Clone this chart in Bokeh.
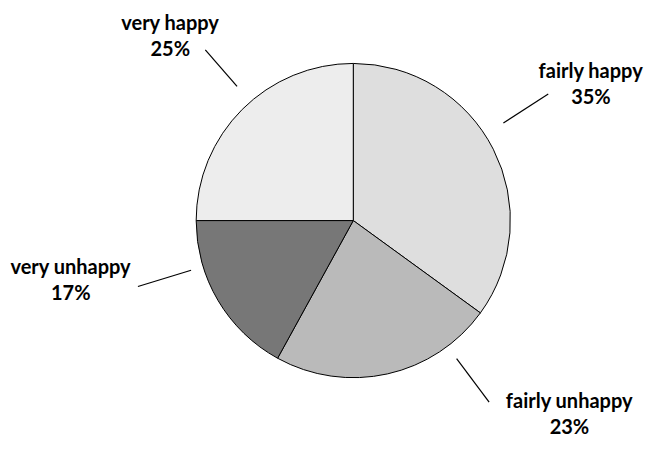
import numpy as np
from bokeh.plotting import figure
from bokeh.models import Range1d
from bokeh.core.properties import value
from bokeh.embed import file_html
from bokeh.resources import INLINE

# data (clockwise from 12 o'clock)
categories = ["fairly happy", "fairly unhappy", "very unhappy", "very happy"]
percents = [35, 23, 17, 25]
colors = ["#dedede", "#bababa", "#777777", "#ededed"]

# label layout (reference-pixel coordinates, y downward)
label_x = [605, 583, 72, 174]
label_y = [72, 414, 275, 22]
leader_angle = [33.3, -53.5, 197.2, 130.6]
leader_r0 = [184, 178, 174, 183]
leader_r1 = [239, 234, 231, 233]

W, H = 648, 443
cx, cy, R = 361.5, 228.0, 161.0

p = figure(width=W, height=H, output_backend="svg", toolbar_location=None,
           x_range=Range1d(0, 664), y_range=Range1d(-459, 0),
           min_border=0, outline_line_color=None)
p.axis.visible = False
p.grid.visible = False
p.background_fill_color = "white"
p.border_fill_color = "white"

fr = np.array(percents, dtype=float) / sum(percents)
cum = np.concatenate([[0], np.cumsum(fr)])
starts = np.pi / 2 - 2 * np.pi * cum[:-1]
ends = np.pi / 2 - 2 * np.pi * cum[1:]
p.wedge(x=cx, y=-cy, radius=R, start_angle=starts, end_angle=ends,
        direction="clock", fill_color=colors, line_color="black", line_width=1)

a = np.radians(leader_angle)
x0 = cx + np.array(leader_r0) * np.cos(a)
y0 = -cy + np.array(leader_r0) * np.sin(a)
x1 = cx + np.array(leader_r1) * np.cos(a)
y1 = -cy + np.array(leader_r1) * np.sin(a)
p.segment(x0=x0, y0=y0, x1=x1, y1=y1, line_color="black", line_width=1.2)

font = value("Lato")
ly = -np.array(label_y, dtype=float)
p.text(x=label_x, y=ly, text=categories, text_font=font, text_font_style="bold",
       text_font_size="20px", text_align="center", text_baseline="alphabetic",
       text_color="black")
p.text(x=label_x, y=ly - 27, text=[f"{v}%" for v in percents], text_font=font,
       text_font_style="bold", text_font_size="20px", text_align="center",
       text_baseline="alphabetic", text_color="black")

open("out.html", "w").write(file_html(p, INLINE))
